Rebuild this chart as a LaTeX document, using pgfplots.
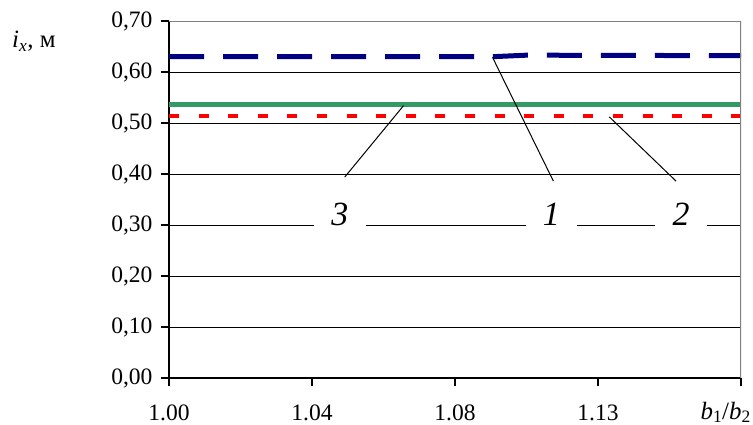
\documentclass[border=0pt]{standalone}
\usepackage{pgfplots}
\pgfplotsset{compat=1.18}
\usepackage{fontspec}
\setmainfont{Liberation Serif}
\definecolor{navyc}{RGB}{0,0,128}
\definecolor{greenc}{RGB}{51,153,102}
\definecolor{redc}{RGB}{255,0,0}
\begin{document}
\begin{tikzpicture}
\path[use as bounding box] (0,0) rectangle (753bp,425bp);
\begin{axis}[
  at={(169bp,47bp)}, anchor=south west,
  scale only axis, width=572bp, height=357bp,
  xmin=0, xmax=4, ymin=0, ymax=0.7,
  axis x line*=bottom, axis y line*=left,
  axis line style={black, line width=1.3bp, -},
  xtick={0,1,2,3,4},
  xticklabels={1.00,1.04,1.08,1.13,{}},
  ytick={0,0.1,0.2,0.3,0.4,0.5,0.6,0.7},
  yticklabel style={/pgf/number format/fixed, /pgf/number format/fixed zerofill, /pgf/number format/precision=2, /pgf/number format/use comma, /pgf/number format/assume math mode=true, xshift=-5bp},
  tick align=outside,
  major tick length=8bp,
  tick style={black, line width=1.1bp},
  ymajorgrids,
  grid style={black, line width=0.9bp},
  every tick label/.append style={font=\fontsize{23.6}{28}\selectfont},
  xticklabel style={yshift=-15bp},
]
\addplot[navyc, line width=5bp, dash pattern=on 35bp off 19bp] coordinates {(0,0.630) (2.262,0.630) (2.5,0.633) (4,0.632)};
\addplot[greenc, line width=5bp] coordinates {(0,0.536) (4,0.536)};
\addplot[redc, line width=4bp, dash pattern=on 10bp off 19.6bp] coordinates {(0,0.514) (4,0.514)};
\draw[gray, line width=1.5bp] (axis cs:0,0.7) -- (axis cs:4,0.7) -- (axis cs:4,0);
\draw[black, line width=1bp] (axis cs:2.262,0.629) -- (axis cs:2.688,0.386);
\draw[black, line width=1bp] (axis cs:1.640,0.534) -- (axis cs:1.229,0.394);
\draw[black, line width=1bp] (axis cs:3.079,0.512) -- (axis cs:3.546,0.386);
\node[fill=white, inner sep=0pt, minimum width=52bp, minimum height=30bp, anchor=base, font=\fontsize{34}{40}\selectfont\itshape] at (axis cs:1.194,0.30) {3};
\node[fill=white, inner sep=0pt, minimum width=51bp, minimum height=30bp, anchor=base, font=\fontsize{34}{40}\selectfont\itshape] at (axis cs:2.674,0.30) {1};
\node[fill=white, inner sep=0pt, minimum width=52bp, minimum height=30bp, anchor=base, font=\fontsize{34}{40}\selectfont\itshape] at (axis cs:3.581,0.30) {2};
\end{axis}
\node[anchor=base west, inner sep=0pt, font=\fontsize{25}{30}\selectfont] at (12bp,377bp) {\textit{i}\textsubscript{\textit{x}}, м};
\node[anchor=base east, inner sep=0pt, font=\fontsize{25}{30}\selectfont] at (751bp,6bp) {\textit{b}\textsubscript{1}/\textit{b}\textsubscript{2}};
\end{tikzpicture}
\end{document}
